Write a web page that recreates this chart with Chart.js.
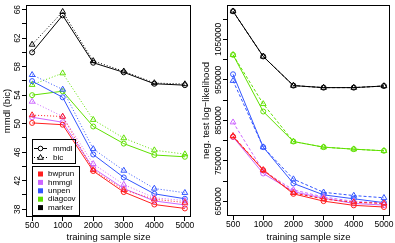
<!DOCTYPE html>
<html><head><meta charset="utf-8">
<script src="https://cdn.jsdelivr.net/npm/chart.js@4/dist/chart.umd.min.js"></script>
<style>
html,body{margin:0;padding:0;background:#fff;width:395px;height:243px;overflow:hidden}
#l{position:absolute;left:0;top:0}
#r{position:absolute;left:197px;top:0}
</style>
</head><body>
<canvas id="l" width="197" height="243"></canvas>
<canvas id="r" width="198" height="243"></canvas>
<script>
const categories = ['500','1000','2000','3000','4000','5000'];
const methods = ['bwprun','hmmgl','unpen','diagcov','marker'];
const criteria = ['mmdl','bic'];
const methodColors = ['#ff1f1f','#cc66ff','#3355ff','#5fe000','#000000'];

// left panel: mmdl (bic)
const leftBwprunMmdl  = [50.1, 49.85, 43.35, 40.4, 38.65, 38.1];
const leftBwprunBic   = [51.2, 51.0, 43.5, 40.7, 39.4, 38.92];
const leftHmmglMmdl   = [50.9, 50.2, 43.75, 40.9, 39.15, 38.6];
const leftHmmglBic    = [53.1, 51.0, 44.35, 41.45, 39.6, 39.2];
const leftUnpenMmdl   = [55.97, 53.7, 45.67, 42.45, 40.15, 39.46];
const leftUnpenBic    = [56.85, 54.8, 46.45, 43.42, 40.9, 40.3];
const leftDiagcovMmdl = [54.0, 54.55, 49.6, 47.2, 45.6, 45.35];
const leftDiagcovBic  = [55.46, 57.08, 50.55, 47.97, 46.28, 45.72];
const leftMarkerMmdl  = [60.0, 65.2, 58.55, 57.2, 55.6, 55.4];
const leftMarkerBic   = [61.1, 65.7, 58.8, 57.35, 55.7, 55.55];
const leftTickValues  = [38,40,42,44,46,48,50,52,54,56,58,60,62,64,66];
const leftTickLabels  = [38,42,46,50,54,58,62,66];

// right panel: neg. test log-likelihood
const rightBwprunMmdl  = [810000, 727000, 668700, 650700, 640300, 636200];
const rightBwprunBic   = [812000, 728000, 671000, 656000, 648000, 645000];
const rightHmmglMmdl   = [809000, 719000, 674000, 658000, 645000, 641000];
const rightHmmglBic    = [845500, 725000, 678400, 661000, 650000, 646000];
const rightUnpenMmdl   = [964000, 784000, 694400, 666200, 656500, 647000];
const rightUnpenBic    = [948000, 784000, 705000, 672500, 664500, 659000];
const rightDiagcovMmdl = [1012000, 872000, 797900, 784000, 779000, 775000];
const rightDiagcovBic  = [1012000, 890700, 797900, 784000, 779000, 775000];
const rightMarkerMmdl  = [1119500, 1008000, 936000, 931000, 931000, 935000];
const rightMarkerBic   = [1119500, 1008000, 936000, 931000, 931000, 935000];
const rightTickValues  = [650000,700000,750000,800000,850000,900000,950000,1000000,1050000,1100000];
const rightTickLabels  = [650000,750000,850000,950000,1050000];

const FONT = '"Liberation Sans", Arial, Helvetica, sans-serif';

function buildDatasets(seriesMmdl, seriesBic, dash) {
  const ds = [];
  methods.forEach((m, i) => {
    const col = methodColors[i];
    ds.push({
      label: m + ' ' + criteria[1],
      data: seriesBic[i].map((v, k) => ({x: k + 1, y: v})),
      borderColor: col, pointBorderColor: col, pointBackgroundColor: 'rgba(0,0,0,0)',
      borderWidth: 1, borderDash: dash, pointStyle: 'triangle', pointRadius: 3.3,
      pointBorderWidth: 1, tension: 0, fill: false
    });
    ds.push({
      label: m + ' ' + criteria[0],
      data: seriesMmdl[i].map((v, k) => ({x: k + 1, y: v})),
      borderColor: col, pointBorderColor: col, pointBackgroundColor: 'rgba(0,0,0,0)',
      borderWidth: 1, pointStyle: 'circle', pointRadius: 2.5,
      pointBorderWidth: 1, tension: 0, fill: false
    });
  });
  return ds;
}

const framePlugin = {
  id: 'frame',
  afterDraw(chart, args, opts) {
    const {ctx, chartArea: a} = chart;
    ctx.save();
    ctx.strokeStyle = '#000'; ctx.lineWidth = 1;
    const l = Math.round(a.left) + 0.5, t = Math.round(a.top) + 0.5;
    const r = Math.round(a.right) - 0.5, b = Math.round(a.bottom) - 0.5;
    ctx.strokeRect(l, t, r - l, b - t);
    const ys = chart.scales.y;
    ctx.fillStyle = '#000';
    ctx.font = '8.5px ' + FONT;
    ctx.textAlign = 'center'; ctx.textBaseline = 'middle';
    opts.labels.forEach(v => {
      const py = ys.getPixelForValue(v);
      ctx.save(); ctx.translate(opts.labelX, py); ctx.rotate(-Math.PI / 2);
      ctx.fillText(String(v), 0, 0); ctx.restore();
    });
    if (opts.legend) {
      // line-type legend
      ctx.strokeRect(32.5, 139.5, 43, 24);
      ctx.font = '8px ' + FONT; ctx.textAlign = 'left';
      ctx.beginPath(); ctx.moveTo(34, 148.5); ctx.lineTo(47, 148.5); ctx.stroke();
      ctx.beginPath(); ctx.arc(40.5, 148.5, 2.3, 0, Math.PI * 2); ctx.fillStyle = '#fff'; ctx.fill(); ctx.stroke();
      ctx.setLineDash([1, 2]);
      ctx.beginPath(); ctx.moveTo(34, 157.5); ctx.lineTo(47, 157.5); ctx.stroke();
      ctx.setLineDash([]);
      ctx.beginPath(); ctx.moveTo(40.5, 154.5); ctx.lineTo(43.3, 159.3); ctx.lineTo(37.7, 159.3); ctx.closePath(); ctx.fill(); ctx.stroke();
      ctx.fillStyle = '#000';
      ctx.fillText(criteria[0], 53, 148.5);
      ctx.fillText(criteria[1], 53, 157.5);
      // colour legend
      ctx.strokeRect(32.5, 166.5, 47, 49);
      methods.forEach((m, i) => {
        const yy = 174 + i * 8.4;
        ctx.fillStyle = methodColors[i];
        ctx.fillRect(38, yy - 2.5, 5, 5);
        ctx.fillStyle = '#000';
        ctx.fillText(m, 48, yy);
      });
    }
    ctx.restore();
  }
};

function makeChart(id, seriesMmdl, seriesBic, dash, cfg) {
  return new Chart(document.getElementById(id), {
    type: 'line',
    data: {datasets: buildDatasets(seriesMmdl, seriesBic, dash)},
    options: {
      responsive: false, animation: false, devicePixelRatio: 1,
      layout: {padding: {top: 1, right: cfg.rightPad, left: 0, bottom: 0}},
      plugins: {legend: {display: false}, tooltip: {enabled: false},
        frame: {labels: cfg.tickLabels, labelX: cfg.labelX, legend: cfg.legend}},
      scales: {
        x: {
          type: 'linear', min: 0.8, max: 6.2,
          afterBuildTicks: s => { s.ticks = categories.map((c, i) => ({value: i + 1})); },
          afterFit: s => { s.height = cfg.xHeight; },
          ticks: {callback: v => categories[v - 1], color: '#000', font: {size: 8.5, family: FONT},
            padding: 0, maxRotation: 0, minRotation: 0, autoSkip: false},
          grid: {drawOnChartArea: false, drawTicks: true, tickLength: 4, color: '#000', lineWidth: 1},
          border: {display: false},
          title: {display: true, text: 'training sample size', color: '#000',
            font: {size: 9.5, family: FONT}, padding: {top: 0, bottom: 0}}
        },
        y: {
          type: 'linear', min: cfg.yMin, max: cfg.yMax,
          afterBuildTicks: s => { s.ticks = cfg.tickValues.map(v => ({value: v})); },
          afterFit: s => { s.width = cfg.yWidth; },
          ticks: {display: false},
          grid: {drawOnChartArea: false, drawTicks: true, tickLength: 4, color: '#000', lineWidth: 1},
          border: {display: false},
          title: {display: true, text: cfg.yTitle, color: '#000',
            font: {size: 9.5, family: FONT}, padding: {top: cfg.yTitlePad, bottom: 0}}
        }
      }
    },
    plugins: [framePlugin]
  });
}

makeChart('l',
  [leftBwprunMmdl, leftHmmglMmdl, leftUnpenMmdl, leftDiagcovMmdl, leftMarkerMmdl],
  [leftBwprunBic, leftHmmglBic, leftUnpenBic, leftDiagcovBic, leftMarkerBic],
  [1, 2],
  {rightPad: 6, xHeight: 26, yWidth: 26, yMin: 36.9, yMax: 66.65, tickValues: leftTickValues,
   tickLabels: leftTickLabels, labelX: 17.5, legend: true, yTitle: 'mmdl (bic)', yTitlePad: 2});

makeChart('r',
  [rightBwprunMmdl, rightHmmglMmdl, rightUnpenMmdl, rightDiagcovMmdl, rightMarkerMmdl],
  [rightBwprunBic, rightHmmglBic, rightUnpenBic, rightDiagcovBic, rightMarkerBic],
  [3, 2],
  {rightPad: 1, xHeight: 27, yWidth: 30, yMin: 614000, yMax: 1135000, tickValues: rightTickValues,
   tickLabels: rightTickLabels, labelX: 21.3, legend: false, yTitle: 'neg. test log\u2212likelihood', yTitlePad: 4});
</script>
</body></html>
